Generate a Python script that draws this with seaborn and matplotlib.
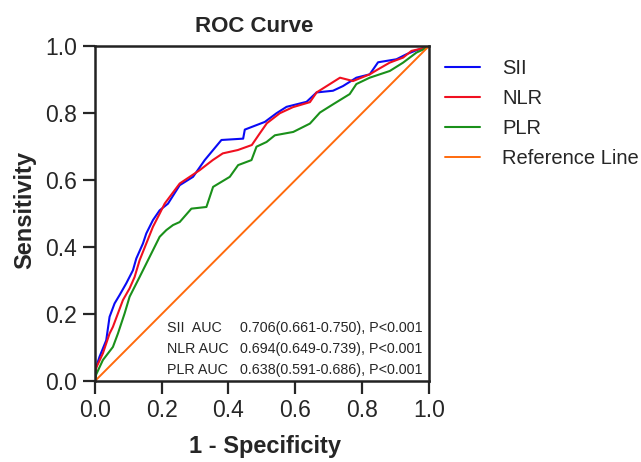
import numpy as np
import pandas as pd
import seaborn as sns
import matplotlib.pyplot as plt

# ROC points (1 - specificity, sensitivity)
sii_fpr = [0.0, 0.004, 0.014, 0.034, 0.044, 0.059, 0.074, 0.094, 0.114, 0.124, 0.144, 0.154,
           0.174, 0.194, 0.219, 0.254, 0.294, 0.329, 0.379, 0.444, 0.449, 0.509, 0.544, 0.574,
           0.634, 0.664, 0.713, 0.743, 0.783, 0.823, 0.848, 0.903, 0.933, 0.963, 1.0]
sii_tpr = [0.0, 0.043, 0.073, 0.122, 0.192, 0.232, 0.257, 0.292, 0.331, 0.366, 0.411, 0.441,
           0.481, 0.510, 0.530, 0.585, 0.610, 0.660, 0.720, 0.724, 0.751, 0.774, 0.800, 0.819,
           0.834, 0.862, 0.867, 0.881, 0.906, 0.916, 0.952, 0.961, 0.976, 0.988, 1.0]

nlr_fpr = [0.0, 0.004, 0.024, 0.044, 0.054, 0.069, 0.084, 0.104, 0.119, 0.134, 0.154, 0.174,
           0.194, 0.209, 0.254, 0.314, 0.353, 0.383, 0.428, 0.470, 0.494, 0.515, 0.554, 0.593,
           0.644, 0.664, 0.734, 0.773, 0.823, 0.848, 0.883, 0.923, 0.948, 0.983, 1.0]
nlr_tpr = [0.0, 0.040, 0.083, 0.142, 0.162, 0.202, 0.242, 0.277, 0.311, 0.361, 0.411, 0.461,
           0.500, 0.530, 0.590, 0.630, 0.660, 0.680, 0.690, 0.705, 0.740, 0.770, 0.800, 0.818,
           0.833, 0.862, 0.906, 0.896, 0.916, 0.931, 0.951, 0.966, 0.986, 0.994, 1.0]

plr_fpr = [0.0, 0.004, 0.024, 0.054, 0.069, 0.089, 0.104, 0.134, 0.154, 0.174, 0.194, 0.214,
           0.234, 0.254, 0.289, 0.334, 0.354, 0.404, 0.429, 0.469, 0.484, 0.514, 0.539, 0.594,
           0.644, 0.674, 0.714, 0.763, 0.783, 0.823, 0.883, 0.923, 0.963, 0.983, 1.0]
plr_tpr = [0.0, 0.020, 0.063, 0.102, 0.142, 0.202, 0.252, 0.311, 0.351, 0.391, 0.431, 0.451,
           0.466, 0.475, 0.515, 0.520, 0.580, 0.610, 0.645, 0.660, 0.700, 0.714, 0.734, 0.744,
           0.769, 0.802, 0.827, 0.857, 0.887, 0.906, 0.926, 0.951, 0.981, 0.990, 1.0]

ref_line = [0.0, 1.0]

auc_labels = ['SII  AUC', 'NLR AUC', 'PLR AUC']
auc_values = ['0.706(0.661-0.750), P<0.001',
              '0.694(0.649-0.739), P<0.001',
              '0.638(0.591-0.686), P<0.001']

sns.set_style('ticks')
plt.rcParams['font.family'] = ['Liberation Sans', 'DejaVu Sans']

fig = plt.figure(figsize=(6.41, 4.62), dpi=100)
ax = fig.add_axes([0.148, 0.175, 0.521, 0.725])

curves = [('SII', sii_fpr, sii_tpr, '#0A0AF5'),
          ('NLR', nlr_fpr, nlr_tpr, '#F01020'),
          ('PLR', plr_fpr, plr_tpr, '#1A901A')]
for name, fpr, tpr, col in curves:
    df = pd.DataFrame({'fpr': fpr, 'tpr': tpr})
    sns.lineplot(data=df, x='fpr', y='tpr', sort=False, estimator=None,
                 color=col, lw=1.5, label=name, ax=ax)
sns.lineplot(x=ref_line, y=ref_line, color='#FF6A0D', lw=1.4, label='Reference Line', ax=ax)

ax.set_xlim(0, 1)
ax.set_ylim(0, 1)
ticks = np.arange(0, 1.01, 0.2)
ax.set_xticks(ticks)
ax.set_yticks(ticks)
ax.set_xticklabels([f'{t:.1f}' for t in ticks])
ax.set_yticklabels([f'{t:.1f}' for t in ticks])
ax.tick_params(labelsize=16.5, width=1.6, length=9, direction='out', pad=4)
for sp in ax.spines.values():
    sp.set_linewidth(1.8)
    sp.set_color('#222222')

ax.set_title('ROC Curve', fontsize=16, fontweight='bold', pad=10, x=0.476)
ax.set_xlabel('1 - Specificity', fontsize=17, fontweight='bold')
ax.set_ylabel('Sensitivity', fontsize=17, fontweight='bold')
ax.xaxis.set_label_coords(0.51, -0.16)
ax.yaxis.set_label_coords(-0.176, 0.51)

for i, (lab, val) in enumerate(zip(auc_labels, auc_values)):
    yy = 0.160 - i * 0.063
    ax.text(0.215, yy, lab, fontsize=10.3, va='center', ha='left')
    ax.text(0.435, yy, val, fontsize=10.3, va='center', ha='left')

ax.legend(loc='upper left', bbox_to_anchor=(0.694, 0.873), bbox_transform=fig.transFigure,
          frameon=False, fontsize=14.5, handlelength=1.75, labelspacing=0.55,
          handletextpad=1.1, borderpad=0, borderaxespad=0)

fig.savefig('out.png', dpi=100)
